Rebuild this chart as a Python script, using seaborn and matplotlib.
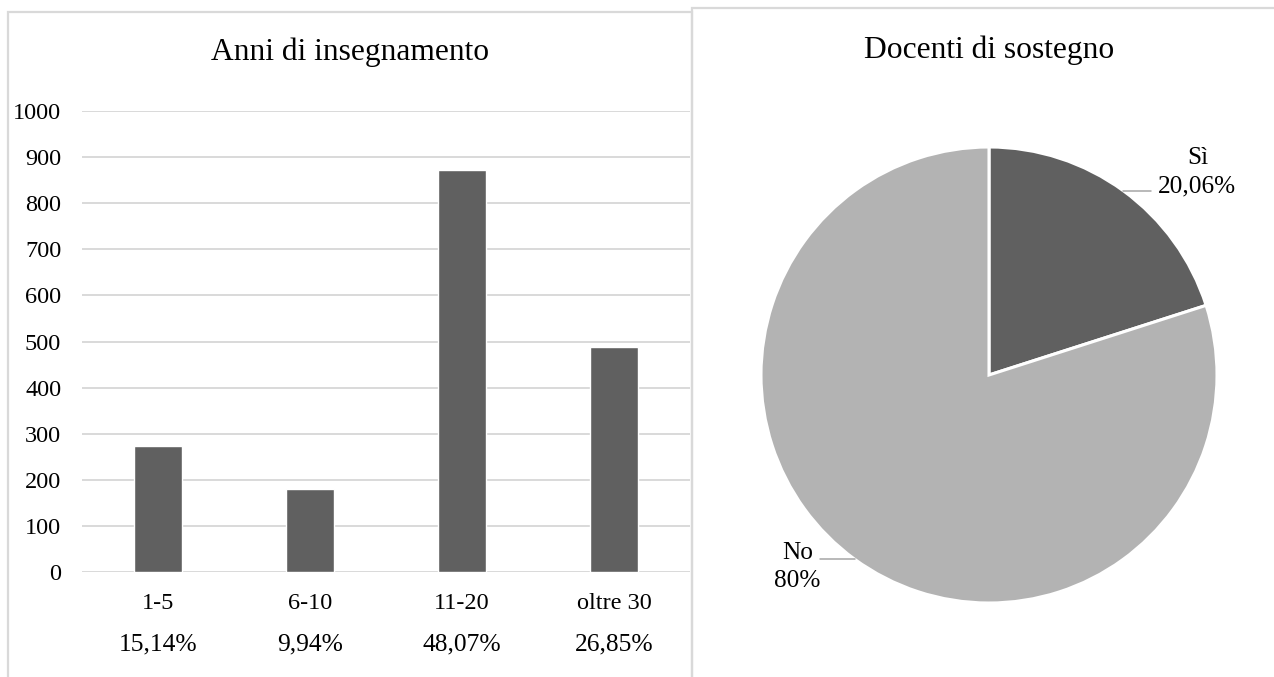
import numpy as np
import matplotlib
matplotlib.use("Agg")
import matplotlib.pyplot as plt
from matplotlib.patches import Rectangle
import seaborn as sns

# Years of teaching: counts per range and their share labels
anni_categorie = ["1-5", "6-10", "11-20", "oltre 30"]
anni_valori = [274, 180, 871, 487]
anni_percentuali = ["15,14%", "9,94%", "48,07%", "26,85%"]
anni_ticks = [0, 100, 200, 300, 400, 500, 600, 700, 800, 900, 1000]

# Support teachers: shares and their labels
sostegno_categorie = ["Sì", "No"]
sostegno_quote = [20.06, 79.94]
sostegno_etichette = ["Sì\n20,06%", "No\n80%"]

sns.set_theme(style="white")
plt.rcParams["font.family"] = ["Liberation Serif", "DejaVu Serif"]

W, H = 1274, 677
fig = plt.figure(figsize=(W / 100, H / 100), dpi=100)
fig.patch.set_facecolor("white")

BORDER = "#d9d9d9"
DARK = "#606060"
LIGHT = "#b3b3b3"

# Panel frames
fig.add_artist(Rectangle((8 / W, -0.05), (692 - 8) / W, 1.05 - 12 / H,
                         transform=fig.transFigure, fill=False,
                         edgecolor=BORDER, linewidth=1.6, zorder=0))
fig.add_artist(Rectangle((692 / W, -0.05), 0.6, 1.05 - 8 / H,
                         transform=fig.transFigure, fill=False,
                         edgecolor=BORDER, linewidth=1.6, zorder=0))

# ---- Bar chart ----
ax = fig.add_axes([82 / W, (H - 572) / H, (690 - 82) / W, (572 - 111) / H])
sns.barplot(x=anni_categorie, y=anni_valori, color=DARK, width=0.31,
            saturation=1, ax=ax, zorder=3)
ax.set_ylim(0, 1000)
ax.set_yticks(anni_ticks)
ax.set_yticklabels([str(t) for t in anni_ticks])
ax.grid(axis="y", color=BORDER, linewidth=1.4, zorder=0)
ax.grid(axis="x", visible=False)
for s in ax.spines.values():
    s.set_visible(False)
ax.tick_params(axis="y", length=0, pad=15, labelsize=17.5, labelcolor="black")
ax.tick_params(axis="x", length=0, pad=15, labelsize=17.5, labelcolor="black")
ax.set_xlabel("")
ax.set_ylabel("")
for i, p in enumerate(anni_percentuali):
    ax.annotate(p, xy=(i, 0), xycoords=("data", "axes fraction"),
                xytext=(0, -72), textcoords="offset pixels",
                ha="center", va="center", fontsize=18.4, color="black")
fig.text(350 / W, 1 - 52 / H, "Anni di insegnamento", ha="center",
         va="center", fontsize=22.7, color="black")

# ---- Pie chart ----
R = 228
pax = fig.add_axes([(989 - R) / W, (H - 603) / H, 2 * R / W, 2 * R / H])
wedges, _ = pax.pie(sostegno_quote, colors=[DARK, LIGHT], startangle=90,
                    counterclock=False, radius=1,
                    wedgeprops=dict(edgecolor="white", linewidth=2.2))
pax.set_xlim(-1, 1)
pax.set_ylim(-1, 1)
pax.set_aspect("equal")
pax.axis("off")

leader_len = [28, -35]
text_offset = [(74, 19), (-57, -8)]
for w, lbl, ll, off in zip(wedges, sostegno_etichette, leader_len, text_offset):
    ang = np.deg2rad((w.theta1 + w.theta2) / 2)
    x0, y0 = np.cos(ang), np.sin(ang)
    pax.plot([x0, x0 + ll / R], [y0, y0], color="#a6a6a6", linewidth=1.1,
             clip_on=False)
    pax.annotate(lbl, xy=(x0, y0), xytext=off, textcoords="offset pixels",
                 ha="center", va="center", multialignment="center",
                 fontsize=18.2, color="black", linespacing=1.38)

fig.text(989 / W, 1 - 50 / H, "Docenti di sostegno", ha="center",
         va="center", fontsize=22.7, color="black")

fig.savefig("out.png", dpi=100, facecolor="white")
